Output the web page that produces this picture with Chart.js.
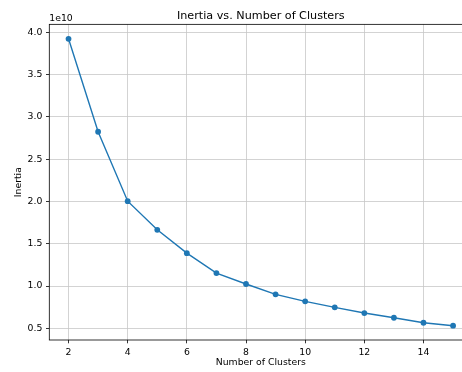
<!DOCTYPE html>
<html>
<head>
<meta charset="utf-8">
<script src="https://cdn.jsdelivr.net/npm/chart.js@4"></script>
<style>
  html, body { margin: 0; padding: 0; background: #fff; overflow: hidden; }
  #wrap { width: 480px; height: 372px; }
</style>
</head>
<body>
<div id="wrap"><canvas id="elbowChart" width="480" height="372"></canvas></div>
<script>
const clusters = [2, 3, 4, 5, 6, 7, 8, 9, 10, 11, 12, 13, 14, 15];
const inertia = [3.924e10, 2.825e10, 2.004e10, 1.665e10, 1.389e10, 1.153e10, 1.024e10,
                 0.902e10, 0.819e10, 0.748e10, 0.681e10, 0.625e10, 0.566e10, 0.531e10];
const xTicks = [2, 4, 6, 8, 10, 12, 14];
const yTicks = [0.5, 1.0, 1.5, 2.0, 2.5, 3.0, 3.5, 4.0];

const font = 'DejaVu Sans';

// matplotlib style box + offset text
const frame = {
  id: 'frame',
  afterDraw(chart) {
    const { ctx, chartArea: a } = chart;
    ctx.save();
    ctx.strokeStyle = '#000';
    ctx.lineWidth = 0.8;
    ctx.strokeRect(a.left, a.top, a.right - a.left, a.bottom - a.top);
    ctx.fillStyle = '#000';
    ctx.font = '9.3px "' + font + '"';
    ctx.textAlign = 'left';
    ctx.textBaseline = 'alphabetic';
    ctx.fillText('1e10', a.left, a.top - 3);
    ctx.restore();
  }
};

const ctx = document.getElementById('elbowChart').getContext('2d');

const elbowChart = new Chart(ctx, {
  type: 'line',
  data: {
    datasets: [{
      data: clusters.map((k, i) => ({ x: k, y: inertia[i] })),
      borderColor: '#1f77b4',
      backgroundColor: '#1f77b4',
      borderWidth: 1.4,
      pointRadius: 2.9,
      pointBorderWidth: 0,
      pointBackgroundColor: '#1f77b4',
      tension: 0
    }]
  },
  options: {
    responsive: false,
    animation: false,
    layout: { padding: { left: 0, right: 7.7, top: 0, bottom: 0 } },
    plugins: {
      legend: { display: false },
      tooltip: { enabled: false },
      title: {
        display: true,
        fullSize: false,
        text: 'Inertia vs. Number of Clusters',
        color: '#000',
        font: { family: font, size: 11.2, weight: 'normal' },
        padding: { top: 9, bottom: 1.9 }
      }
    },
    scales: {
      x: {
        type: 'linear',
        min: 1.35,
        max: 15.65,
        afterBuildTicks: s => { s.ticks = xTicks.map(v => ({ value: v })); },
        afterFit: s => { s.height = 32; },
        border: { display: false },
        grid: { color: '#c8c8c8', lineWidth: 0.8, tickColor: '#000', tickLength: 3.3, tickWidth: 0.8 },
        ticks: { color: '#000', padding: 3.3, maxRotation: 0, autoSkip: false,
                 font: { family: font, size: 9.3 } },
        title: { display: true, text: 'Number of Clusters', color: '#000',
                 font: { family: font, size: 9.3 }, padding: { top: 0, bottom: 4.2 } }
      },
      y: {
        min: 0.362e10,
        max: 4.095e10,
        afterBuildTicks: s => { s.ticks = yTicks.map(v => ({ value: v * 1e10 })); },
        afterFit: s => { s.width = 49.3; },
        border: { display: false },
        grid: { color: '#c8c8c8', lineWidth: 0.8, tickColor: '#000', tickLength: 3.3, tickWidth: 0.8 },
        ticks: { color: '#000', padding: 3.7, autoSkip: false,
                 font: { family: font, size: 9.3 },
                 callback: v => (v / 1e10).toFixed(1) },
        title: { display: true, text: 'Inertia', color: '#000',
                 font: { family: font, size: 9.3 }, padding: { top: 13.2, bottom: 0 } }
      }
    }
  },
  plugins: [frame]
});
</script>
</body>
</html>
